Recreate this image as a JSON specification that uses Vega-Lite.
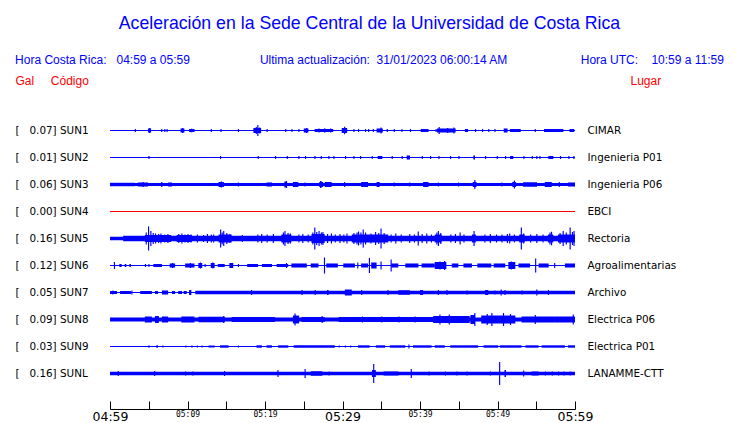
{
"$schema": "https://vega.github.io/schema/vega-lite/v6.json",
"width": 465, "height": 315,
"autosize": "none",
"padding": {"left": 110, "top": 94, "right": 165, "bottom": 14},
"background": "white",
"title": {
 "text": "Aceleración en la Sede Central de la Universidad de Costa Rica",
 "subtitle": "Hora Costa Rica:\u00a0\u00a0\u00a004:59 a 05:59\u00a0\u00a0\u00a0\u00a0\u00a0\u00a0\u00a0\u00a0\u00a0\u00a0\u00a0\u00a0\u00a0\u00a0\u00a0\u00a0\u00a0\u00a0\u00a0\u00a0\u00a0Ultima actualización:\u00a0\u00a031/01/2023 06:00:14 AM\u00a0\u00a0\u00a0\u00a0\u00a0\u00a0\u00a0\u00a0\u00a0\u00a0\u00a0\u00a0\u00a0\u00a0\u00a0\u00a0\u00a0\u00a0\u00a0\u00a0\u00a0\u00a0Hora UTC:\u00a0\u00a0\u00a0\u00a010:59 a 11:59",
 "color": "#0000ff", "subtitleColor": "#0000ff",
 "font": "Liberation Sans", "subtitleFont": "Liberation Sans",
 "fontSize": 17.7, "fontWeight": "normal", "subtitleFontSize": 12,
 "subtitlePadding": 22, "anchor": "middle", "frame": "group", "dx": 27, "offset": 8
},
"config": {"view": {"stroke": null}},
"datasets": {
 "st": [
  {"s":"SUN1","etiqueta":"[\u00a0\u00a0\u00a00.07] SUN1","lugar":"CIMAR","estado":"normal"},
  {"s":"SUN2","etiqueta":"[\u00a0\u00a0\u00a00.01] SUN2","lugar":"Ingenieria P01","estado":"normal"},
  {"s":"SUN3","etiqueta":"[\u00a0\u00a0\u00a00.06] SUN3","lugar":"Ingenieria P06","estado":"normal"},
  {"s":"SUN4","etiqueta":"[\u00a0\u00a0\u00a00.00] SUN4","lugar":"EBCI","estado":"sin señal"},
  {"s":"SUN5","etiqueta":"[\u00a0\u00a0\u00a00.16] SUN5","lugar":"Rectoria","estado":"normal"},
  {"s":"SUN6","etiqueta":"[\u00a0\u00a0\u00a00.12] SUN6","lugar":"Agroalimentarias","estado":"normal"},
  {"s":"SUN7","etiqueta":"[\u00a0\u00a0\u00a00.05] SUN7","lugar":"Archivo","estado":"normal"},
  {"s":"SUN8","etiqueta":"[\u00a0\u00a0\u00a00.09] SUN8","lugar":"Electrica P06","estado":"normal"},
  {"s":"SUN9","etiqueta":"[\u00a0\u00a0\u00a00.03] SUN9","lugar":"Electrica P01","estado":"normal"},
  {"s":"SUNL","etiqueta":"[\u00a0\u00a0\u00a00.16] SUNL","lugar":"LANAMME-CTT","estado":"normal"}
 ],
 "w": [
  {"s":"SUN1","t0":0,"t1":60,"a":0.0067},
  {"s":"SUN2","t0":0,"t1":60,"a":0.0067},
  {"s":"SUN3","t0":0,"t1":60,"a":0.02},
  {"s":"SUN4","t0":0,"t1":60,"a":0.0067},
  {"s":"SUN5","t0":0,"t1":60,"a":0.023},
  {"s":"SUN6","t0":0,"t1":60,"a":0.0067},
  {"s":"SUN7","t0":0,"t1":60,"a":0.0067},
  {"s":"SUN8","t0":0,"t1":60,"a":0.027},
  {"s":"SUN9","t0":0,"t1":60,"a":0.0067},
  {"s":"SUNL","t0":0,"t1":60,"a":0.022},

  {"s":"SUN1","t0":3.2,"t1":3.35,"a":0.02},
  {"s":"SUN1","t0":4.9,"t1":5.3,"a":0.027},
  {"s":"SUN1","t0":5.05,"t1":5.2,"a":0.033},
  {"s":"SUN1","t0":6.6,"t1":6.75,"a":0.02},
  {"s":"SUN1","t0":7.0,"t1":7.15,"a":0.02},
  {"s":"SUN1","t0":7.3,"t1":7.45,"a":0.02},
  {"s":"SUN1","t0":9.1,"t1":9.6,"a":0.027},
  {"s":"SUN1","t0":9.3,"t1":9.45,"a":0.033},
  {"s":"SUN1","t0":10.2,"t1":10.9,"a":0.02},
  {"s":"SUN1","t0":10.5,"t1":10.6,"a":0.027},
  {"s":"SUN1","t0":13.0,"t1":13.15,"a":0.02},
  {"s":"SUN1","t0":14.25,"t1":14.4,"a":0.02},
  {"s":"SUN1","t0":16.5,"t1":16.65,"a":0.02},
  {"s":"SUN1","t0":18.5,"t1":19.5,"a":0.033},
  {"s":"SUN1","t0":18.8,"t1":18.95,"a":0.047},
  {"s":"SUN1","t0":19.0,"t1":19.15,"a":0.073},
  {"s":"SUN1","t0":19.25,"t1":19.4,"a":0.04},
  {"s":"SUN1","t0":20.2,"t1":20.35,"a":0.02},
  {"s":"SUN1","t0":22.6,"t1":22.75,"a":0.02},
  {"s":"SUN1","t0":23.4,"t1":23.55,"a":0.02},
  {"s":"SUN1","t0":24.3,"t1":24.45,"a":0.02},
  {"s":"SUN1","t0":25.0,"t1":25.6,"a":0.027},
  {"s":"SUN1","t0":25.3,"t1":25.45,"a":0.033},
  {"s":"SUN1","t0":26.4,"t1":28.8,"a":0.02},
  {"s":"SUN1","t0":26.9,"t1":27.05,"a":0.027},
  {"s":"SUN1","t0":27.6,"t1":27.8,"a":0.027},
  {"s":"SUN1","t0":28.4,"t1":28.55,"a":0.027},
  {"s":"SUN1","t0":29.9,"t1":30.6,"a":0.033},
  {"s":"SUN1","t0":30.2,"t1":30.35,"a":0.05},
  {"s":"SUN1","t0":31.4,"t1":31.55,"a":0.02},
  {"s":"SUN1","t0":32.0,"t1":32.15,"a":0.02},
  {"s":"SUN1","t0":32.9,"t1":33.05,"a":0.02},
  {"s":"SUN1","t0":33.3,"t1":33.45,"a":0.02},
  {"s":"SUN1","t0":33.9,"t1":34.05,"a":0.02},
  {"s":"SUN1","t0":34.4,"t1":35.2,"a":0.027},
  {"s":"SUN1","t0":34.9,"t1":35.05,"a":0.04},
  {"s":"SUN1","t0":35.7,"t1":35.85,"a":0.02},
  {"s":"SUN1","t0":36.6,"t1":36.75,"a":0.02},
  {"s":"SUN1","t0":37.6,"t1":37.75,"a":0.02},
  {"s":"SUN1","t0":38.7,"t1":38.85,"a":0.02},
  {"s":"SUN1","t0":40.1,"t1":41.1,"a":0.02},
  {"s":"SUN1","t0":42.0,"t1":42.15,"a":0.02},
  {"s":"SUN1","t0":42.2,"t1":44.6,"a":0.027},
  {"s":"SUN1","t0":42.4,"t1":42.55,"a":0.047},
  {"s":"SUN1","t0":43.5,"t1":43.65,"a":0.033},
  {"s":"SUN1","t0":44.3,"t1":44.45,"a":0.04},
  {"s":"SUN1","t0":45.8,"t1":46.2,"a":0.02},
  {"s":"SUN1","t0":47.1,"t1":47.25,"a":0.02},
  {"s":"SUN1","t0":48.0,"t1":48.15,"a":0.02},
  {"s":"SUN1","t0":48.8,"t1":48.95,"a":0.02},
  {"s":"SUN1","t0":49.6,"t1":49.75,"a":0.02},
  {"s":"SUN1","t0":50.8,"t1":51.3,"a":0.027},
  {"s":"SUN1","t0":51.6,"t1":53.0,"a":0.02},
  {"s":"SUN1","t0":54.8,"t1":54.95,"a":0.02},
  {"s":"SUN1","t0":56.0,"t1":58.5,"a":0.02},
  {"s":"SUN1","t0":59.3,"t1":59.9,"a":0.02},

  {"s":"SUN2","t0":4.95,"t1":5.1,"a":0.02},
  {"s":"SUN2","t0":14.19,"t1":14.34,"a":0.02},
  {"s":"SUN2","t0":19.05,"t1":19.2,"a":0.02},
  {"s":"SUN2","t0":21.29,"t1":21.44,"a":0.02},
  {"s":"SUN2","t0":22.8,"t1":22.95,"a":0.02},
  {"s":"SUN2","t0":24.3,"t1":24.45,"a":0.02},
  {"s":"SUN2","t0":25.16,"t1":25.31,"a":0.02},
  {"s":"SUN2","t0":26.37,"t1":26.52,"a":0.02},
  {"s":"SUN2","t0":27.18,"t1":27.33,"a":0.02},
  {"s":"SUN2","t0":28.17,"t1":28.32,"a":0.02},
  {"s":"SUN2","t0":28.82,"t1":28.97,"a":0.02},
  {"s":"SUN2","t0":30.32,"t1":30.47,"a":0.02},
  {"s":"SUN2","t0":31.4,"t1":31.55,"a":0.02},
  {"s":"SUN2","t0":32.26,"t1":32.41,"a":0.02},
  {"s":"SUN2","t0":33.76,"t1":33.91,"a":0.02},
  {"s":"SUN2","t0":34.54,"t1":35.14,"a":0.02},
  {"s":"SUN2","t0":36.34,"t1":36.49,"a":0.02},
  {"s":"SUN2","t0":37.63,"t1":37.78,"a":0.02},
  {"s":"SUN2","t0":38.28,"t1":38.71,"a":0.027},
  {"s":"SUN2","t0":40.22,"t1":40.37,"a":0.02},
  {"s":"SUN2","t0":41.29,"t1":41.44,"a":0.02},
  {"s":"SUN2","t0":42.37,"t1":42.52,"a":0.02},
  {"s":"SUN2","t0":43.87,"t1":44.02,"a":0.02},
  {"s":"SUN2","t0":44.95,"t1":45.1,"a":0.02},
  {"s":"SUN2","t0":46.88,"t1":47.1,"a":0.027},
  {"s":"SUN2","t0":48.39,"t1":48.54,"a":0.02},
  {"s":"SUN2","t0":49.89,"t1":50.04,"a":0.02},
  {"s":"SUN2","t0":50.97,"t1":51.12,"a":0.02},
  {"s":"SUN2","t0":51.61,"t1":52.04,"a":0.02},
  {"s":"SUN2","t0":53.33,"t1":53.48,"a":0.02},
  {"s":"SUN2","t0":54.41,"t1":54.56,"a":0.02},
  {"s":"SUN2","t0":55.0,"t1":55.15,"a":0.02},
  {"s":"SUN2","t0":55.4,"t1":55.55,"a":0.02},
  {"s":"SUN2","t0":56.56,"t1":57.2,"a":0.02},
  {"s":"SUN2","t0":58.06,"t1":58.21,"a":0.02},
  {"s":"SUN2","t0":59.14,"t1":59.29,"a":0.02},
  {"s":"SUN2","t0":59.78,"t1":59.93,"a":0.02},

  {"s":"SUN3","t0":0,"t1":3.2,"a":0.023},
  {"s":"SUN3","t0":3.6,"t1":4.9,"a":0.027},
  {"s":"SUN3","t0":4.2,"t1":4.35,"a":0.033},
  {"s":"SUN3","t0":6.6,"t1":6.75,"a":0.033},
  {"s":"SUN3","t0":7.5,"t1":8.0,"a":0.027},
  {"s":"SUN3","t0":14.0,"t1":14.7,"a":0.033},
  {"s":"SUN3","t0":14.3,"t1":14.45,"a":0.04},
  {"s":"SUN3","t0":16.5,"t1":16.65,"a":0.027},
  {"s":"SUN3","t0":20.2,"t1":20.9,"a":0.027},
  {"s":"SUN3","t0":22.5,"t1":22.8,"a":0.04},
  {"s":"SUN3","t0":22.7,"t1":22.85,"a":0.047},
  {"s":"SUN3","t0":23.6,"t1":24.3,"a":0.033},
  {"s":"SUN3","t0":25.1,"t1":25.25,"a":0.027},
  {"s":"SUN3","t0":27.0,"t1":27.5,"a":0.033},
  {"s":"SUN3","t0":27.1,"t1":27.3,"a":0.047},
  {"s":"SUN3","t0":27.7,"t1":28.6,"a":0.033},
  {"s":"SUN3","t0":30.2,"t1":30.35,"a":0.033},
  {"s":"SUN3","t0":32.4,"t1":33.3,"a":0.033},
  {"s":"SUN3","t0":34.4,"t1":34.8,"a":0.033},
  {"s":"SUN3","t0":36.6,"t1":36.75,"a":0.027},
  {"s":"SUN3","t0":38.6,"t1":38.75,"a":0.027},
  {"s":"SUN3","t0":40.4,"t1":41.1,"a":0.033},
  {"s":"SUN3","t0":42.3,"t1":42.45,"a":0.027},
  {"s":"SUN3","t0":44.9,"t1":45.05,"a":0.027},
  {"s":"SUN3","t0":46.8,"t1":47.3,"a":0.033},
  {"s":"SUN3","t0":47.0,"t1":47.15,"a":0.06},
  {"s":"SUN3","t0":50.5,"t1":50.65,"a":0.027},
  {"s":"SUN3","t0":51.9,"t1":52.4,"a":0.033},
  {"s":"SUN3","t0":52.1,"t1":52.25,"a":0.053},
  {"s":"SUN3","t0":53.3,"t1":55.1,"a":0.03},
  {"s":"SUN3","t0":56.1,"t1":57.0,"a":0.033},
  {"s":"SUN3","t0":57.9,"t1":58.05,"a":0.033},
  {"s":"SUN3","t0":59.1,"t1":60,"a":0.027},

  {"s":"SUN5","t0":1.7,"t1":60,"a":0.037},
  {"s":"SUN5","t0":4.5,"t1":7.9,"a":0.047},
  {"s":"SUN5","t0":8.6,"t1":10.5,"a":0.047},
  {"s":"SUN5","t0":14.0,"t1":15.7,"a":0.053},
  {"s":"SUN5","t0":22.1,"t1":23.4,"a":0.053},
  {"s":"SUN5","t0":26.0,"t1":27.7,"a":0.06},
  {"s":"SUN5","t0":31.2,"t1":35.9,"a":0.053},
  {"s":"SUN5","t0":41.9,"t1":42.8,"a":0.053},
  {"s":"SUN5","t0":46.7,"t1":47.2,"a":0.053},
  {"s":"SUN5","t0":52.8,"t1":53.5,"a":0.053},
  {"s":"SUN5","t0":56.5,"t1":57.2,"a":0.053},
  {"s":"SUN5","t0":57.8,"t1":60,"a":0.053},
  {"s":"SUN5","t0":4.6,"t1":4.75,"a":0.08},
  {"s":"SUN5","t0":4.9,"t1":5.05,"a":0.16},
  {"s":"SUN5","t0":5.2,"t1":5.35,"a":0.1},
  {"s":"SUN5","t0":5.5,"t1":5.65,"a":0.073},
  {"s":"SUN5","t0":5.8,"t1":5.95,"a":0.067},
  {"s":"SUN5","t0":6.2,"t1":6.35,"a":0.06},
  {"s":"SUN5","t0":6.5,"t1":6.65,"a":0.067},
  {"s":"SUN5","t0":7.0,"t1":7.15,"a":0.053},
  {"s":"SUN5","t0":7.4,"t1":7.55,"a":0.06},
  {"s":"SUN5","t0":8.8,"t1":8.95,"a":0.06},
  {"s":"SUN5","t0":9.2,"t1":9.35,"a":0.067},
  {"s":"SUN5","t0":9.6,"t1":9.75,"a":0.053},
  {"s":"SUN5","t0":10.0,"t1":10.15,"a":0.06},
  {"s":"SUN5","t0":10.4,"t1":10.55,"a":0.053},
  {"s":"SUN5","t0":11.2,"t1":11.35,"a":0.053},
  {"s":"SUN5","t0":12.0,"t1":12.15,"a":0.047},
  {"s":"SUN5","t0":12.5,"t1":12.65,"a":0.06},
  {"s":"SUN5","t0":13.0,"t1":13.15,"a":0.053},
  {"s":"SUN5","t0":13.3,"t1":13.45,"a":0.053},
  {"s":"SUN5","t0":14.2,"t1":14.35,"a":0.12},
  {"s":"SUN5","t0":14.4,"t1":14.55,"a":0.08},
  {"s":"SUN5","t0":14.6,"t1":14.75,"a":0.1},
  {"s":"SUN5","t0":15.0,"t1":15.15,"a":0.073},
  {"s":"SUN5","t0":15.4,"t1":15.55,"a":0.06},
  {"s":"SUN5","t0":17.0,"t1":17.15,"a":0.047},
  {"s":"SUN5","t0":19.0,"t1":19.15,"a":0.053},
  {"s":"SUN5","t0":19.5,"t1":19.65,"a":0.06},
  {"s":"SUN5","t0":20.2,"t1":20.35,"a":0.053},
  {"s":"SUN5","t0":21.0,"t1":21.15,"a":0.06},
  {"s":"SUN5","t0":22.3,"t1":22.45,"a":0.08},
  {"s":"SUN5","t0":22.5,"t1":22.65,"a":0.1},
  {"s":"SUN5","t0":22.9,"t1":23.05,"a":0.073},
  {"s":"SUN5","t0":23.2,"t1":23.35,"a":0.067},
  {"s":"SUN5","t0":24.3,"t1":24.45,"a":0.053},
  {"s":"SUN5","t0":24.8,"t1":24.95,"a":0.06},
  {"s":"SUN5","t0":25.5,"t1":25.65,"a":0.053},
  {"s":"SUN5","t0":26.1,"t1":26.25,"a":0.08},
  {"s":"SUN5","t0":26.35,"t1":26.5,"a":0.147},
  {"s":"SUN5","t0":26.6,"t1":26.75,"a":0.087},
  {"s":"SUN5","t0":26.9,"t1":27.05,"a":0.1},
  {"s":"SUN5","t0":27.2,"t1":27.35,"a":0.08},
  {"s":"SUN5","t0":27.4,"t1":27.55,"a":0.087},
  {"s":"SUN5","t0":28.0,"t1":28.15,"a":0.06},
  {"s":"SUN5","t0":28.5,"t1":28.65,"a":0.067},
  {"s":"SUN5","t0":29.0,"t1":29.15,"a":0.053},
  {"s":"SUN5","t0":29.6,"t1":29.75,"a":0.06},
  {"s":"SUN5","t0":30.1,"t1":30.25,"a":0.053},
  {"s":"SUN5","t0":30.5,"t1":30.65,"a":0.067},
  {"s":"SUN5","t0":31.4,"t1":31.55,"a":0.073},
  {"s":"SUN5","t0":31.8,"t1":31.95,"a":0.08},
  {"s":"SUN5","t0":32.0,"t1":32.15,"a":0.093},
  {"s":"SUN5","t0":32.3,"t1":32.45,"a":0.08},
  {"s":"SUN5","t0":32.6,"t1":32.75,"a":0.12},
  {"s":"SUN5","t0":32.9,"t1":33.05,"a":0.08},
  {"s":"SUN5","t0":33.6,"t1":33.75,"a":0.067},
  {"s":"SUN5","t0":34.2,"t1":34.35,"a":0.087},
  {"s":"SUN5","t0":34.6,"t1":34.75,"a":0.073},
  {"s":"SUN5","t0":34.9,"t1":35.05,"a":0.133},
  {"s":"SUN5","t0":35.3,"t1":35.45,"a":0.073},
  {"s":"SUN5","t0":36.2,"t1":36.35,"a":0.053},
  {"s":"SUN5","t0":36.8,"t1":36.95,"a":0.067},
  {"s":"SUN5","t0":37.5,"t1":37.65,"a":0.053},
  {"s":"SUN5","t0":38.6,"t1":38.75,"a":0.06},
  {"s":"SUN5","t0":39.2,"t1":39.35,"a":0.053},
  {"s":"SUN5","t0":39.7,"t1":39.85,"a":0.093},
  {"s":"SUN5","t0":40.2,"t1":40.35,"a":0.06},
  {"s":"SUN5","t0":40.8,"t1":40.95,"a":0.067},
  {"s":"SUN5","t0":41.4,"t1":41.55,"a":0.053},
  {"s":"SUN5","t0":42.1,"t1":42.25,"a":0.08},
  {"s":"SUN5","t0":42.3,"t1":42.45,"a":0.1},
  {"s":"SUN5","t0":42.6,"t1":42.75,"a":0.073},
  {"s":"SUN5","t0":43.9,"t1":44.05,"a":0.053},
  {"s":"SUN5","t0":44.5,"t1":44.65,"a":0.06},
  {"s":"SUN5","t0":45.1,"t1":45.25,"a":0.08},
  {"s":"SUN5","t0":45.6,"t1":45.75,"a":0.053},
  {"s":"SUN5","t0":46.9,"t1":47.05,"a":0.1},
  {"s":"SUN5","t0":48.3,"t1":48.45,"a":0.053},
  {"s":"SUN5","t0":49.0,"t1":49.15,"a":0.06},
  {"s":"SUN5","t0":49.8,"t1":49.95,"a":0.053},
  {"s":"SUN5","t0":50.5,"t1":50.65,"a":0.053},
  {"s":"SUN5","t0":51.2,"t1":51.35,"a":0.06},
  {"s":"SUN5","t0":51.5,"t1":51.65,"a":0.067},
  {"s":"SUN5","t0":52.1,"t1":52.25,"a":0.053},
  {"s":"SUN5","t0":53.0,"t1":53.15,"a":0.147},
  {"s":"SUN5","t0":53.3,"t1":53.45,"a":0.067},
  {"s":"SUN5","t0":54.2,"t1":54.35,"a":0.053},
  {"s":"SUN5","t0":55.0,"t1":55.15,"a":0.06},
  {"s":"SUN5","t0":55.8,"t1":55.95,"a":0.053},
  {"s":"SUN5","t0":56.7,"t1":56.85,"a":0.08},
  {"s":"SUN5","t0":56.9,"t1":57.05,"a":0.09},
  {"s":"SUN5","t0":58.0,"t1":58.15,"a":0.073},
  {"s":"SUN5","t0":58.4,"t1":58.55,"a":0.1},
  {"s":"SUN5","t0":58.8,"t1":58.95,"a":0.08},
  {"s":"SUN5","t0":59.3,"t1":59.45,"a":0.147},
  {"s":"SUN5","t0":59.6,"t1":59.75,"a":0.087},
  {"s":"SUN5","t0":59.8,"t1":59.95,"a":0.1},

  {"s":"SUN6","t0":0.5,"t1":0.65,"a":0.047},
  {"s":"SUN6","t0":1.2,"t1":1.5,"a":0.02},
  {"s":"SUN6","t0":1.9,"t1":2.1,"a":0.02},
  {"s":"SUN6","t0":2.5,"t1":2.7,"a":0.02},
  {"s":"SUN6","t0":4.5,"t1":4.65,"a":0.02},
  {"s":"SUN6","t0":4.95,"t1":5.1,"a":0.02},
  {"s":"SUN6","t0":5.6,"t1":6.7,"a":0.02},
  {"s":"SUN6","t0":7.7,"t1":8.4,"a":0.027},
  {"s":"SUN6","t0":8.0,"t1":8.15,"a":0.033},
  {"s":"SUN6","t0":9.7,"t1":10.9,"a":0.027},
  {"s":"SUN6","t0":10.3,"t1":10.45,"a":0.033},
  {"s":"SUN6","t0":11.4,"t1":11.9,"a":0.033},
  {"s":"SUN6","t0":11.6,"t1":11.75,"a":0.04},
  {"s":"SUN6","t0":12.2,"t1":12.35,"a":0.02},
  {"s":"SUN6","t0":13.0,"t1":13.5,"a":0.033},
  {"s":"SUN6","t0":13.2,"t1":13.35,"a":0.04},
  {"s":"SUN6","t0":13.9,"t1":14.8,"a":0.02},
  {"s":"SUN6","t0":15.4,"t1":15.9,"a":0.033},
  {"s":"SUN6","t0":16.5,"t1":16.65,"a":0.02},
  {"s":"SUN6","t0":17.7,"t1":19.1,"a":0.02},
  {"s":"SUN6","t0":19.6,"t1":20.9,"a":0.02},
  {"s":"SUN6","t0":21.5,"t1":23.0,"a":0.02},
  {"s":"SUN6","t0":22.7,"t1":22.85,"a":0.033},
  {"s":"SUN6","t0":23.4,"t1":25.4,"a":0.027},
  {"s":"SUN6","t0":25.9,"t1":26.9,"a":0.027},
  {"s":"SUN6","t0":27.6,"t1":27.75,"a":0.107},
  {"s":"SUN6","t0":27.9,"t1":29.4,"a":0.027},
  {"s":"SUN6","t0":30.1,"t1":31.6,"a":0.027},
  {"s":"SUN6","t0":31.9,"t1":32.05,"a":0.04},
  {"s":"SUN6","t0":32.4,"t1":33.3,"a":0.027},
  {"s":"SUN6","t0":33.4,"t1":33.55,"a":0.1},
  {"s":"SUN6","t0":33.7,"t1":34.4,"a":0.04},
  {"s":"SUN6","t0":34.9,"t1":35.05,"a":0.053},
  {"s":"SUN6","t0":36.2,"t1":36.35,"a":0.08},
  {"s":"SUN6","t0":36.3,"t1":37.2,"a":0.027},
  {"s":"SUN6","t0":38.1,"t1":39.8,"a":0.027},
  {"s":"SUN6","t0":40.2,"t1":41.9,"a":0.027},
  {"s":"SUN6","t0":41.9,"t1":43.4,"a":0.047},
  {"s":"SUN6","t0":42.5,"t1":42.65,"a":0.053},
  {"s":"SUN6","t0":43.1,"t1":43.25,"a":0.06},
  {"s":"SUN6","t0":44.1,"t1":44.95,"a":0.027},
  {"s":"SUN6","t0":45.6,"t1":46.7,"a":0.027},
  {"s":"SUN6","t0":47.4,"t1":49.2,"a":0.027},
  {"s":"SUN6","t0":49.5,"t1":51.0,"a":0.027},
  {"s":"SUN6","t0":51.4,"t1":52.3,"a":0.047},
  {"s":"SUN6","t0":51.7,"t1":51.85,"a":0.053},
  {"s":"SUN6","t0":52.7,"t1":54.2,"a":0.027},
  {"s":"SUN6","t0":54.85,"t1":55.0,"a":0.093},
  {"s":"SUN6","t0":55.3,"t1":56.6,"a":0.027},
  {"s":"SUN6","t0":57.3,"t1":57.45,"a":0.033},
  {"s":"SUN6","t0":58.7,"t1":60,"a":0.027},

  {"s":"SUN7","t0":0,"t1":0.9,"a":0.02},
  {"s":"SUN7","t0":0.3,"t1":0.45,"a":0.027},
  {"s":"SUN7","t0":1.3,"t1":2.7,"a":0.02},
  {"s":"SUN7","t0":2.75,"t1":2.9,"a":0.027},
  {"s":"SUN7","t0":3.9,"t1":5.4,"a":0.02},
  {"s":"SUN7","t0":5.8,"t1":6.2,"a":0.02},
  {"s":"SUN7","t0":6.7,"t1":7.5,"a":0.027},
  {"s":"SUN7","t0":8.0,"t1":8.4,"a":0.02},
  {"s":"SUN7","t0":8.8,"t1":9.3,"a":0.02},
  {"s":"SUN7","t0":9.5,"t1":9.9,"a":0.02},
  {"s":"SUN7","t0":10.2,"t1":10.5,"a":0.033},
  {"s":"SUN7","t0":11.0,"t1":60,"a":0.022},
  {"s":"SUN7","t0":18.2,"t1":18.35,"a":0.033},
  {"s":"SUN7","t0":24.7,"t1":24.85,"a":0.033},
  {"s":"SUN7","t0":26.4,"t1":26.55,"a":0.033},
  {"s":"SUN7","t0":28.0,"t1":28.2,"a":0.033},
  {"s":"SUN7","t0":30.3,"t1":31.2,"a":0.04},
  {"s":"SUN7","t0":32.4,"t1":32.55,"a":0.033},
  {"s":"SUN7","t0":35.8,"t1":35.95,"a":0.033},
  {"s":"SUN7","t0":37.2,"t1":38.7,"a":0.03},
  {"s":"SUN7","t0":40.0,"t1":40.4,"a":0.033},
  {"s":"SUN7","t0":42.3,"t1":42.45,"a":0.033},
  {"s":"SUN7","t0":43.4,"t1":43.55,"a":0.033},
  {"s":"SUN7","t0":46.0,"t1":46.15,"a":0.027},
  {"s":"SUN7","t0":48.4,"t1":48.8,"a":0.033},
  {"s":"SUN7","t0":49.6,"t1":49.75,"a":0.027},
  {"s":"SUN7","t0":50.4,"t1":50.55,"a":0.04},
  {"s":"SUN7","t0":50.9,"t1":51.05,"a":0.033},
  {"s":"SUN7","t0":53.1,"t1":53.25,"a":0.027},
  {"s":"SUN7","t0":55.0,"t1":55.15,"a":0.04},
  {"s":"SUN7","t0":56.5,"t1":56.65,"a":0.033},

  {"s":"SUN8","t0":4.5,"t1":5.4,"a":0.04},
  {"s":"SUN8","t0":5.8,"t1":6.3,"a":0.047},
  {"s":"SUN8","t0":6.7,"t1":7.5,"a":0.04},
  {"s":"SUN8","t0":9.2,"t1":10.9,"a":0.04},
  {"s":"SUN8","t0":11.4,"t1":14.8,"a":0.037},
  {"s":"SUN8","t0":14.6,"t1":14.75,"a":0.047},
  {"s":"SUN8","t0":15.7,"t1":21.3,"a":0.033},
  {"s":"SUN8","t0":23.6,"t1":24.4,"a":0.053},
  {"s":"SUN8","t0":23.8,"t1":23.95,"a":0.08},
  {"s":"SUN8","t0":24.7,"t1":27.7,"a":0.033},
  {"s":"SUN8","t0":27.3,"t1":27.45,"a":0.047},
  {"s":"SUN8","t0":29.5,"t1":42,"a":0.033},
  {"s":"SUN8","t0":32.5,"t1":32.65,"a":0.04},
  {"s":"SUN8","t0":35.0,"t1":35.15,"a":0.04},
  {"s":"SUN8","t0":37.2,"t1":37.35,"a":0.04},
  {"s":"SUN8","t0":39.3,"t1":39.45,"a":0.04},
  {"s":"SUN8","t0":41.7,"t1":44.9,"a":0.047},
  {"s":"SUN8","t0":42.5,"t1":42.65,"a":0.067},
  {"s":"SUN8","t0":43.7,"t1":43.85,"a":0.067},
  {"s":"SUN8","t0":44.9,"t1":46.4,"a":0.047},
  {"s":"SUN8","t0":46.5,"t1":47.1,"a":0.06},
  {"s":"SUN8","t0":47.0,"t1":47.15,"a":0.087},
  {"s":"SUN8","t0":47.9,"t1":52.3,"a":0.053},
  {"s":"SUN8","t0":48.6,"t1":48.75,"a":0.073},
  {"s":"SUN8","t0":49.2,"t1":49.35,"a":0.087},
  {"s":"SUN8","t0":50.7,"t1":50.85,"a":0.087},
  {"s":"SUN8","t0":51.6,"t1":51.75,"a":0.073},
  {"s":"SUN8","t0":53.1,"t1":57.4,"a":0.04},
  {"s":"SUN8","t0":54.8,"t1":54.95,"a":0.06},
  {"s":"SUN8","t0":57.4,"t1":60,"a":0.04},
  {"s":"SUN8","t0":59.7,"t1":59.85,"a":0.067},

  {"s":"SUN9","t0":4.95,"t1":5.1,"a":0.016},
  {"s":"SUN9","t0":6.0,"t1":6.15,"a":0.02},
  {"s":"SUN9","t0":6.75,"t1":6.9,"a":0.013},
  {"s":"SUN9","t0":9.7,"t1":9.85,"a":0.013},
  {"s":"SUN9","t0":10.5,"t1":10.65,"a":0.013},
  {"s":"SUN9","t0":11.2,"t1":11.35,"a":0.013},
  {"s":"SUN9","t0":11.8,"t1":11.95,"a":0.013},
  {"s":"SUN9","t0":12.7,"t1":13.5,"a":0.013},
  {"s":"SUN9","t0":14.2,"t1":15.3,"a":0.016},
  {"s":"SUN9","t0":16.5,"t1":16.65,"a":0.013},
  {"s":"SUN9","t0":18.9,"t1":19.6,"a":0.016},
  {"s":"SUN9","t0":20.2,"t1":20.9,"a":0.016},
  {"s":"SUN9","t0":21.7,"t1":23.0,"a":0.016},
  {"s":"SUN9","t0":23.7,"t1":29.0,"a":0.016},
  {"s":"SUN9","t0":29.5,"t1":29.65,"a":0.013},
  {"s":"SUN9","t0":30.3,"t1":30.45,"a":0.013},
  {"s":"SUN9","t0":31.0,"t1":31.15,"a":0.013},
  {"s":"SUN9","t0":32.0,"t1":33.5,"a":0.016},
  {"s":"SUN9","t0":34.3,"t1":35.5,"a":0.016},
  {"s":"SUN9","t0":36.1,"t1":38.1,"a":0.016},
  {"s":"SUN9","t0":38.5,"t1":38.65,"a":0.027},
  {"s":"SUN9","t0":39.1,"t1":41.5,"a":0.016},
  {"s":"SUN9","t0":41.9,"t1":43.2,"a":0.016},
  {"s":"SUN9","t0":43.9,"t1":47.5,"a":0.016},
  {"s":"SUN9","t0":48.2,"t1":50.1,"a":0.016},
  {"s":"SUN9","t0":50.3,"t1":53.1,"a":0.016},
  {"s":"SUN9","t0":53.6,"t1":55.3,"a":0.016},
  {"s":"SUN9","t0":55.7,"t1":58.7,"a":0.016},
  {"s":"SUN9","t0":59.1,"t1":60,"a":0.016},

  {"s":"SUNL","t0":0.99,"t1":1.14,"a":0.033},
  {"s":"SUNL","t0":5.68,"t1":5.83,"a":0.033},
  {"s":"SUNL","t0":9.68,"t1":9.83,"a":0.027},
  {"s":"SUNL","t0":10.62,"t1":10.77,"a":0.027},
  {"s":"SUNL","t0":14.71,"t1":14.86,"a":0.033},
  {"s":"SUNL","t0":21.6,"t1":21.75,"a":0.047},
  {"s":"SUNL","t0":25.1,"t1":25.25,"a":0.06},
  {"s":"SUNL","t0":25.9,"t1":27.4,"a":0.03},
  {"s":"SUNL","t0":28.2,"t1":28.35,"a":0.027},
  {"s":"SUNL","t0":33.8,"t1":34.3,"a":0.047},
  {"s":"SUNL","t0":33.95,"t1":34.1,"a":0.127},
  {"s":"SUNL","t0":35.3,"t1":37.2,"a":0.027},
  {"s":"SUNL","t0":38.8,"t1":38.95,"a":0.06},
  {"s":"SUNL","t0":41.1,"t1":41.25,"a":0.027},
  {"s":"SUNL","t0":43.2,"t1":43.35,"a":0.027},
  {"s":"SUNL","t0":44.7,"t1":44.85,"a":0.027},
  {"s":"SUNL","t0":46.0,"t1":46.15,"a":0.027},
  {"s":"SUNL","t0":49.0,"t1":49.15,"a":0.027},
  {"s":"SUNL","t0":50.2,"t1":50.35,"a":0.153},
  {"s":"SUNL","t0":50.9,"t1":51.1,"a":0.047},
  {"s":"SUNL","t0":53.3,"t1":53.45,"a":0.04},
  {"s":"SUNL","t0":54.4,"t1":55.3,"a":0.027},
  {"s":"SUNL","t0":56.1,"t1":56.25,"a":0.027},
  {"s":"SUNL","t0":57.0,"t1":57.15,"a":0.027},
  {"s":"SUNL","t0":57.8,"t1":57.95,"a":0.027},
  {"s":"SUNL","t0":58.5,"t1":58.65,"a":0.027},
  {"s":"SUNL","t0":59.3,"t1":59.45,"a":0.027}
 ]
},
"layer": [
 {
  "data": {"name": "w"},
  "transform": [{"lookup": "s", "from": {"data": {"name": "st"}, "key": "s", "fields": ["etiqueta", "estado"]}}],
  "mark": {"type": "bar"},
  "encoding": {
   "x": {"field": "t0", "type": "quantitative",
    "scale": {"domain": [0, 60], "nice": false, "zero": false},
    "axis": {"orient": "bottom", "title": null, "grid": false,
     "values": [0,5,10,15,20,25,30,35,40,45,50,55,60],
     "labelExpr": "datum.value % 10 ? '' : timeFormat(datetime(2023, 0, 31, 4, 59 + datum.value), '%H:%M')",
     "domainColor": "#000000", "domainWidth": 1, "tickColor": "#000000", "tickWidth": 1,
     "tickSize": -8, "labelPadding": 9, "labelBaseline": "top",
     "labelFlush": false, "labelOverlap": false, "labelBound": false, "labelColor": "#000000",
     "labelFontSize": {"condition": {"test": "datum.value % 30 == 0", "value": 12.5}, "value": 8},
     "labelFont": {"condition": {"test": "datum.value % 30 == 0", "value": "DejaVu Sans"}, "value": "DejaVu Sans Mono"}
    }},
   "x2": {"field": "t1"},
   "y": {"field": "etiqueta", "type": "nominal",
    "scale": {"type": "point", "padding": 0, "range": [36.5, 279.5],
     "domain": ["[\u00a0\u00a0\u00a00.07] SUN1","[\u00a0\u00a0\u00a00.01] SUN2","[\u00a0\u00a0\u00a00.06] SUN3","[\u00a0\u00a0\u00a00.00] SUN4","[\u00a0\u00a0\u00a00.16] SUN5","[\u00a0\u00a0\u00a00.12] SUN6","[\u00a0\u00a0\u00a00.05] SUN7","[\u00a0\u00a0\u00a00.09] SUN8","[\u00a0\u00a0\u00a00.03] SUN9","[\u00a0\u00a0\u00a00.16] SUNL"]},
    "axis": {"orient": "left", "domain": false, "ticks": false, "tickSize": 0, "grid": false,
     "labelAlign": "left", "labelPadding": 95, "labelFont": "DejaVu Sans", "labelFontSize": 10.4,
     "labelColor": "#000000", "labelBaseline": "middle",
     "title": "Gal\u00a0\u00a0\u00a0\u00a0\u00a0Código", "titleColor": "#ff0000", "titleFont": "Liberation Sans",
     "titleFontSize": 12, "titleFontWeight": "normal", "titleAngle": 0, "titleAlign": "left",
     "titleBaseline": "alphabetic", "titleX": -95, "titleY": -10}},
   "size": {"field": "a", "type": "quantitative",
    "scale": {"type": "linear", "domain": [0, 0.16], "range": [0, 24], "zero": true}, "legend": null},
   "color": {"field": "estado", "type": "nominal",
    "scale": {"domain": ["normal", "sin señal"], "range": ["#0000ff", "#ff0000"]}, "legend": null}
  }
 },
 {
  "data": {"name": "st"},
  "mark": {"type": "tick", "opacity": 0},
  "encoding": {
   "y": {"field": "lugar", "type": "nominal",
    "scale": {"type": "point", "padding": 0, "range": [36.5, 279.5],
     "domain": ["CIMAR","Ingenieria P01","Ingenieria P06","EBCI","Rectoria","Agroalimentarias","Archivo","Electrica P06","Electrica P01","LANAMME-CTT"]},
    "axis": {"orient": "right", "domain": false, "ticks": false, "tickSize": 0, "grid": false,
     "labelAlign": "left", "labelPadding": 12, "labelFont": "DejaVu Sans", "labelFontSize": 10.4,
     "labelColor": "#000000", "labelBaseline": "middle",
     "title": "Lugar", "titleColor": "#ff0000", "titleFont": "Liberation Sans",
     "titleFontSize": 12, "titleFontWeight": "normal", "titleAngle": 0, "titleAlign": "left",
     "titleBaseline": "alphabetic", "titleX": 55, "titleY": -10}}
  }
 }
],
"resolve": {"scale": {"y": "independent"}}
}
